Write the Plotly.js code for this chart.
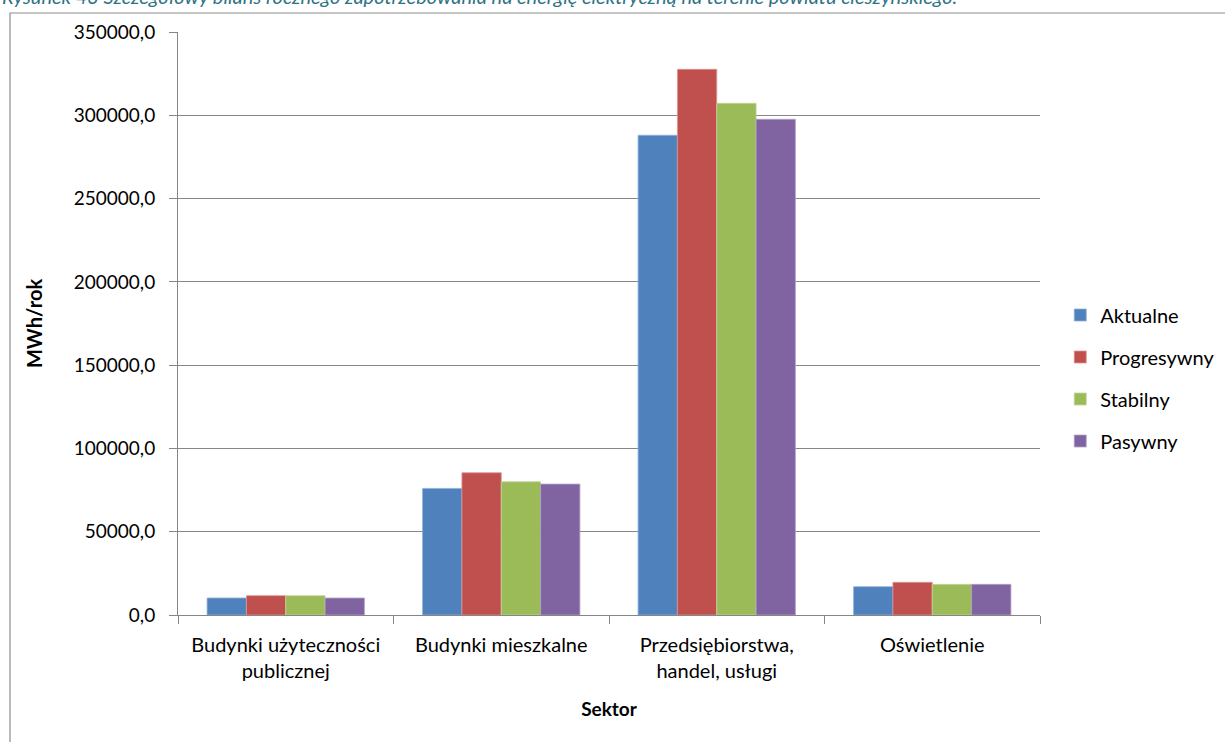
<!DOCTYPE html>
<html>
<head>
<meta charset="utf-8">
<script src="https://cdn.plot.ly/plotly-3.0.1.min.js"></script>
<style>
html,body{margin:0;padding:0;background:#fff;}
#chart{width:1225px;height:742px;}
</style>
</head>
<body>
<div id="chart"></div>
<script>
const categories = ["Budynki użyteczności<br>publicznej", "Budynki mieszkalne", "Przedsiębiorstwa,<br>handel, usługi", "Oświetlenie"];
const seriesNames = ["Aktualne", "Progresywny", "Stabilny", "Pasywny"];
const aktualne    = [10200, 76000, 288000, 17000];
const progresywny = [11600, 85400, 327600, 19600];
const stabilny    = [11600, 80000, 307200, 18400];
const pasywny     = [10200, 78600, 297600, 18400];
const colors = ["#4F81BD", "#C0504D", "#9BBB59", "#8064A2"];
const lineColors = ["#8FB0D8", "#D99694", "#C3D69B", "#B3A2C7"];
const values = [aktualne, progresywny, stabilny, pasywny];

const fontFam = "Lato, 'Open Sans', sans-serif";

const traces = seriesNames.map((name, i) => ({
  type: "bar",
  name: name,
  x: categories,
  y: values[i],
  legendgroup: "g" + i,
  marker: {color: colors[i], line: {color: lineColors[i], width: 0.8}},
  hoverinfo: "x+y+name"
}));

const layout = {
  width: 1225,
  height: 742,
  paper_bgcolor: "#ffffff",
  plot_bgcolor: "#ffffff",
  margin: {l: 178, r: 185, t: 32, b: 127, autoexpand: false},
  separators: ",.",
  barmode: "group",
  bargap: 0.27,
  bargroupgap: 0,
  font: {family: fontFam, size: 19, color: "#000000"},
  xaxis: {
    showline: true, linecolor: "#868686", linewidth: 1,
    ticks: "outside", tickson: "boundaries", ticklen: 8, tickcolor: "#868686",
    tickfont: {family: fontFam, size: 20, color: "#000"},
    ticklabelstandoff: 12,
    title: {text: "<b>Sektor</b>", font: {family: fontFam, size: 19, color: "#000"}, standoff: 21},
    automargin: false
  },
  yaxis: {
    range: [0, 350000], dtick: 50000, tick0: 0,
    tickformat: ".1f",
    showline: true, linecolor: "#868686", linewidth: 1,
    showgrid: true, gridcolor: "#868686", gridwidth: 1,
    zeroline: false,
    ticks: "outside", ticklen: 8, tickcolor: "#868686",
    tickfont: {family: fontFam, size: 19, color: "#000"},
    ticklabelstandoff: 10,
    title: {text: "<b>MWh/rok</b>", font: {family: fontFam, size: 20, color: "#000"}, standoff: 25},
    automargin: false
  },
  legend: {
    x: 1.0235, xanchor: "left", y: 0.4065, yanchor: "middle",
    traceorder: "grouped", tracegroupgap: 13,
    font: {family: fontFam, size: 20, color: "#000"},
    itemwidth: 30
  },
  showlegend: true,
  shapes: [{
    type: "rect", xref: "paper", yref: "paper",
    x0: -0.1949, x1: 1.5, y0: -0.5, y1: 1.0326,
    line: {color: "#8C8C8C", width: 1.2}, fillcolor: "rgba(0,0,0,0)", layer: "below"
  }],
  annotations: [{
    xref: "paper", yref: "paper", x: -0.207, y: 1.061, xanchor: "left", yanchor: "middle",
    showarrow: false,
    text: "<i>Rysunek 43 Szczegółowy bilans rocznego zapotrzebowania na energię elektryczną na terenie powiatu cieszyńskiego.</i>",
    font: {family: fontFam, size: 20, color: "#2E7385"}
  }]
};

Plotly.newPlot("chart", traces, layout, {displayModeBar: false, staticPlot: true});
</script>
</body>
</html>
